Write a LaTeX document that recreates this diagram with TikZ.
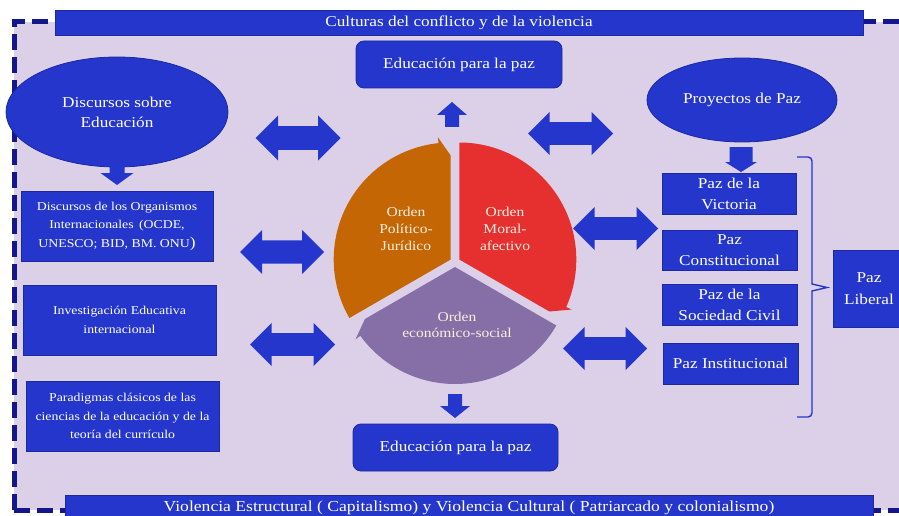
\documentclass[tikz,border=0pt]{standalone}
\usepackage{fontspec}
\setmainfont[FakeStretch=1.15]{Liberation Serif}
\usetikzlibrary{shapes.geometric,calc}
\definecolor{bg}{RGB}{219,208,232}
\definecolor{bblue}{RGB}{36,54,204}
\definecolor{bedge}{RGB}{28,40,160}
\definecolor{navy}{RGB}{20,22,140}
\definecolor{orng}{RGB}{196,102,4}
\definecolor{rd}{RGB}{230,48,48}
\definecolor{purp}{RGB}{134,110,166}
\definecolor{cream}{RGB}{250,240,225}
\newcommand\dblarr[4]{% cx, cy (image, down), half length, half height
  \fill[bblue] ({#1-#3},{-(#2)}) -- ({#1-#3+#4},{-(#2)+#4}) -- ({#1-#3+#4},{-(#2)+0.53*#4})
   -- ({#1+#3-#4},{-(#2)+0.53*#4}) -- ({#1+#3-#4},{-(#2)+#4}) -- ({#1+#3},{-(#2)})
   -- ({#1+#3-#4},{-(#2)-#4}) -- ({#1+#3-#4},{-(#2)-0.53*#4}) -- ({#1-#3+#4},{-(#2)-0.53*#4})
   -- ({#1-#3+#4},{-(#2)-#4}) -- cycle;}
\newcommand\varr[6]{% cx, ybase, ytip (image), shaft half, head half, head length (signed toward tip)
  \fill[bblue] ({#1-#4},{-(#2)}) -- ({#1+#4},{-(#2)}) -- ({#1+#4},{-(#3)+#6}) -- ({#1+#5},{-(#3)+#6})
   -- ({#1},{-(#3)}) -- ({#1-#5},{-(#3)+#6}) -- ({#1-#4},{-(#3)+#6}) -- cycle;}
\begin{document}
\begin{tikzpicture}[x=1pt,y=1pt,
  box/.style={draw=bedge, fill=bblue, text=white, align=center, inner sep=0pt, line width=0.8pt},
  big/.style={font=\fontsize{15}{21}\selectfont},
  small/.style={font=\fontsize{12}{18.5}\selectfont},
  pie/.style={text=cream, align=center, font=\fontsize{13.5}{17}\selectfont}]
\useasboundingbox (0,0) rectangle (899,-516);
\fill[white] (0,0) rectangle (899,-516);
\fill[bg] (14,-22) rectangle (903,-510);
\draw[navy, line width=5pt, dash pattern=on 16pt off 7pt] (14,-510) -- (14,-22) -- (903,-22);
\draw[navy, line width=5pt, dash pattern=on 16pt off 7pt] (14,-510) -- (903,-510);

% banners
\node[box, big, minimum width=808, minimum height=25] (ban1) at (459,-22.5) {Culturas del conflicto y de la violencia};
\node[box, minimum width=808, minimum height=25, font=\fontsize{15.3}{18}\selectfont] (ban2) at (469,-507.5) {Violencia Estructural ( Capitalismo) y Violencia Cultural ( Patriarcado y colonialismo)};

% top / bottom education boxes
\node[box, big, rounded corners=8pt, minimum width=206, minimum height=47] (edu1) at (459,-64.5) {Educación para la paz};
\node[box, big, rounded corners=8pt, minimum width=205, minimum height=47] (edu2) at (455.5,-447.5) {Educación para la paz};

% ellipses
\node[box, ellipse, minimum width=222, minimum height=110, font=\fontsize{15}{20}\selectfont] (ell1) at (117,-112) {Discursos sobre\\Educación};
\node[box, big, ellipse, minimum width=190, minimum height=84] (ell2) at (742,-100) {Proyectos de Paz};

% left boxes
\node[box, small, minimum width=192, minimum height=70] (lb1) at (117,-226) {Discursos de los Organismos\\Internacionales \,(OCDE,\\UNESCO; BID, BM. ONU{\fontsize{15}{18}\selectfont)}};
\node[box, minimum width=193, minimum height=70, font=\fontsize{12}{19}\selectfont] (lb2) at (119.5,-320) {Investigación Educativa\\internacional};
\node[box, small, minimum width=193, minimum height=70] (lb3) at (122.5,-416) {Paradigmas clásicos de las\\ciencias de la educación y de la\\teoría del currículo};

% right boxes
\node[box, big, minimum width=134, minimum height=41] (rb1) at (729,-193.5) {Paz de la\\Victoria};
\node[box, big, minimum width=135, minimum height=40] (rb2) at (729.5,-250) {Paz\\Constitucional};
\node[box, big, minimum width=135, minimum height=41] (rb3) at (729.5,-304.5) {Paz de la\\Sociedad Civil};
\node[box, big, minimum width=135, minimum height=41] (rb4) at (730.5,-363.5) {Paz Institucional};
\node[box, minimum width=72, minimum height=77] (lib) at (869,-288.5) {};
\node[text=white, align=center, font=\fontsize{15}{22}\selectfont] (libt) at (869,-289) {Paz\\Liberal};

% bracket
\draw[bblue, line width=1.4pt, rounded corners=4pt] (797,-157) -- (812,-157) -- (812,-220) [sharp corners] -- (812,-284) -- (827,-287.5) -- (812,-291) -- (812,-360) [rounded corners=4pt] -- (812,-417) -- (797,-417);

% arrows
\dblarr{298}{138}{42.5}{22.5}
\dblarr{282}{252}{42}{22}
\dblarr{292.5}{344.5}{42.5}{21.5}
\dblarr{570.5}{133.5}{42.5}{21.5}
\dblarr{615.5}{228.5}{42.5}{21.5}
\dblarr{605}{348.5}{42}{21.5}
\varr{117}{162}{185}{7.5}{16.5}{12}
\varr{741}{147}{172}{11.5}{16}{10}
\varr{452}{127}{102}{7}{15}{-13}
\varr{455}{394}{418}{7}{15}{12}

% pie
\coordinate (Co) at (450.7,-259.5);
\coordinate (Cr) at (459.3,-259.5);
\coordinate (Cp) at (455,-267);
\fill[orng] (Co) -- ($(Co)+(210:117)$) arc[start angle=210, end angle=96, radius=117] -- ($(Co)+(96:123)$) -- ($(Co)+(90:104)$) -- cycle;
\fill[rd] (Cr) -- ($(Cr)+(90:117)$) arc[start angle=90, end angle=-24, radius=117] -- ($(Cr)+(-24:123)$) -- ($(Cr)+(-30:104)$) -- cycle;
\fill[purp] (Cp) -- ($(Cp)+(-30:117)$) arc[start angle=-30, end angle=-144, radius=117] -- ($(Cp)+(-144:123)$) -- ($(Cp)+(-150:104)$) -- cycle;
\node[pie] (po) at (406,-229) {Orden\\Político-\\Jurídico};
\node[pie] (pr) at (505,-229) {Orden\\Moral-\\afectivo};
\node[pie, font=\fontsize{13.5}{16}\selectfont] (pp) at (457,-325) {Orden\\económico-social};
\end{tikzpicture}
\end{document}
